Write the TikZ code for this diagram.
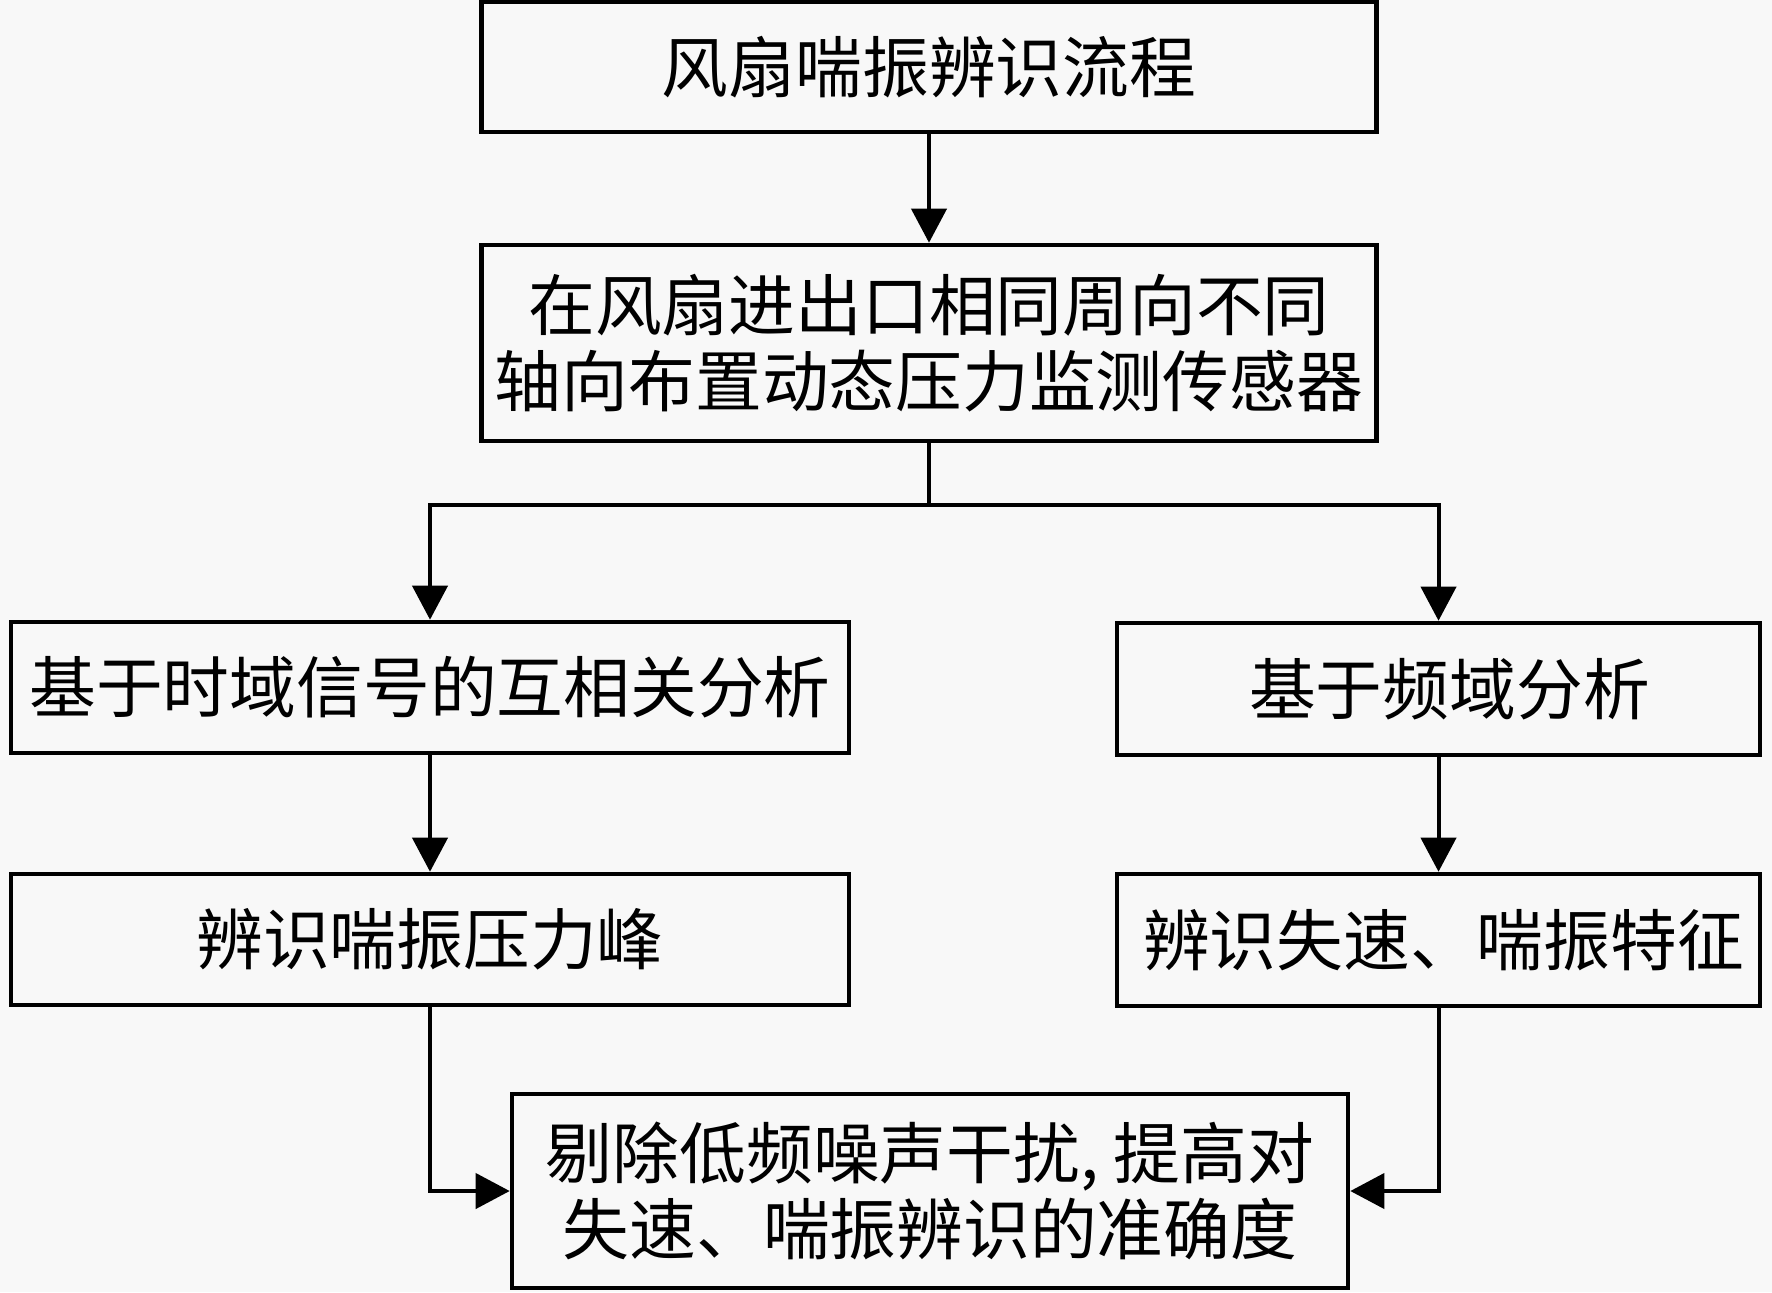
\documentclass[tikz,border=0pt]{standalone}
\usepackage{fontspec}
\newfontfamily\cjk{Noto Sans CJK SC}
\usetikzlibrary{arrows.meta}
\definecolor{bg}{RGB}{248,248,248}
\begin{document}
\begin{tikzpicture}[x=0.1mm,y=-0.1mm,
 box/.style={draw, line width=1.3pt, inner sep=0pt, align=center, font=\cjk\fontsize{19pt}{21.5pt}\selectfont},
 conn/.style={line width=1.15pt},
 arr/.style={conn, -{Triangle[length=3.4mm,width=3.5mm]}}
]
\fill[bg] (0,0) rectangle (1772,1292);
\useasboundingbox (0,0) rectangle (1772,1292);
\node[box, minimum width=89.5mm, minimum height=13mm] (t) at (929,67) {风扇喘振辨识流程};
\node[box, minimum width=89.5mm, minimum height=19.6mm] (s) at (929,343) {在风扇进出口相同周向不同\\轴向布置动态压力监测传感器};
\node[box, minimum width=83.8mm, minimum height=13.1mm] (la) at (430,687.5) {基于时域信号的互相关分析};
\node[box, minimum width=64.3mm, minimum height=13.2mm] (ra) at (1438.5,689) {\hspace*{2.2mm}基于频域分析};
\node[box, minimum width=64.3mm, minimum height=13.2mm] (rb) at (1438.5,940) {\hspace*{1mm}辨识失速、喘振特征};
\node[box, minimum width=83.8mm, minimum height=13.1mm] (lb) at (430,939.5) {辨识喘振压力峰};
\node[box, minimum width=83.6mm, minimum height=19.4mm] (f) at (930,1191) {剔除低频噪声干扰, 提高对\\失速、喘振辨识的准确度};
\coordinate (j) at (929,505);
\draw[arr] (t) -- (s);
\draw[arr] (s.south) -- (j) -| (la.north);
\draw[arr] (j) -| (ra.north);
\draw[arr] (la) -- (lb);
\draw[arr] (ra) -- (rb);
\draw[arr] (lb.south) |- (f.west);
\draw[arr] (rb.south) |- (f.east);
\end{tikzpicture}
\end{document}
